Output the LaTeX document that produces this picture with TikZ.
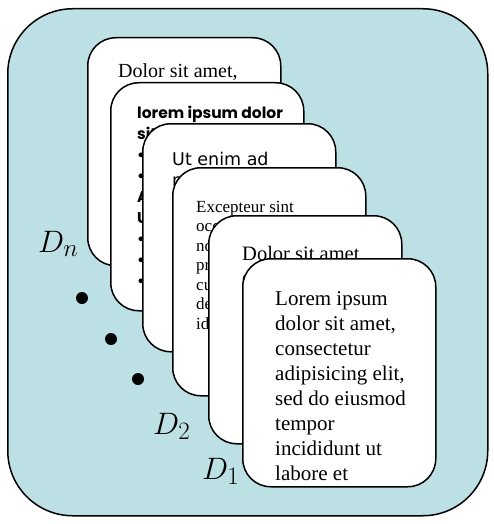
\RequirePackage{fix-cm}
\documentclass[tikz,border=0pt]{standalone}
\usepackage{fontspec}
\setmainfont{Liberation Serif}
\newfontfamily\cardsans{DejaVu Sans}
\newfontfamily\cardbold{Poppins}
\DeclareMathSizes{31}{31}{25}{20}
\definecolor{bgblue}{RGB}{189,224,228}
\begin{document}
\begin{tikzpicture}[x=1pt,y=-1pt,
  frame/.style={draw, line width=1.5pt, fill=bgblue, rounded corners=65pt, minimum width=480pt, minimum height=507pt, anchor=north west, inner sep=0},
  card/.style={draw, line width=1.5pt, fill=white, rounded corners=28pt, minimum width=193pt, minimum height=228pt, anchor=north west, inner sep=0},
  txt/.style={anchor=base west, inner sep=0},
  dotnode/.style={circle, fill=black, minimum size=12pt, inner sep=0},
  lbl/.style={anchor=base west, inner sep=0, font=\fontsize{31}{31}\selectfont}]
\useasboundingbox (0,0) rectangle (494,524);
\node[frame] (outer) at (7,8) {};
% card 1
\node[card] (c1) at (87,37) {};
\node[txt] (t1) at (118,78) {\fontsize{20}{24}\selectfont Dolor sit amet,};
% card 2
\node[card] (c2) at (110,82) {};
\node[txt] (t2) at (137,118) {\vtop{\cardbold\bfseries\fontsize{15.5}{21}\selectfont
  \hbox{lorem ipsum dolor}\hbox{sit amet,}\hbox{\textbullet\ consectetur}\hbox{\textbullet\ adipisicing}\hbox{Aliqua}\hbox{Ut enim}\hbox{\textbullet\ quis}\hbox{\textbullet\ nostrud}\hbox{\textbullet\ ullamco}}};
% card 3
\node[card] (c3) at (142,123) {};
\node[txt] (t3) at (172,165) {\vtop{\cardsans\fontsize{17.5}{21}\selectfont
  \hbox{Ut enim ad}\hbox{minim veniam,}\hbox{quis nostrud}\hbox{exercitation}\hbox{ullamco laboris}\hbox{nisi ut aliquip}\hbox{ex ea commodo}\hbox{consequat.}}};
% card 4
\node[card] (c4) at (172,167) {};
\node[txt] (t4) at (196,212) {\vtop{\fontsize{17}{19.5}\selectfont
  \hbox{Excepteur sint}\hbox{occaecat}\hbox{non}\hbox{proident, sunt in}\hbox{culpa qui officia}\hbox{deserunt mollit}\hbox{id est laborum.}}};
% card 5
\node[card] (c5) at (208,215) {};
\node[txt] (t5) at (242,260) {\vtop{\fontsize{20.5}{24.5}\selectfont
  \hbox{Dolor sit amet,}\hbox{consectetur}\hbox{adipisicing elit,}\hbox{sed do eiusmod}\hbox{tempor}\hbox{incididunt ut}\hbox{labore et}}};
% card 6
\node[card] (c6) at (242,258) {};
\node[txt] (t6) at (275,305) {\vtop{\fontsize{21}{25}\selectfont
  \hbox{Lorem ipsum}\hbox{dolor sit amet,}\hbox{consectetur}\hbox{adipisicing elit,}\hbox{sed do eiusmod}\hbox{tempor}\hbox{incididunt ut}\hbox{labore et}}};
% labels and dots
\node[lbl] (dn) at (38,252) {$D_n$};
\node[dotnode] (p1) at (82,298) {};
\node[dotnode] (p2) at (111,339) {};
\node[dotnode] (p3) at (138,379) {};
\node[lbl] (d2) at (153,434) {$D_2$};
\node[lbl] (d1) at (202,479) {$D_1$};
\end{tikzpicture}
\end{document}
